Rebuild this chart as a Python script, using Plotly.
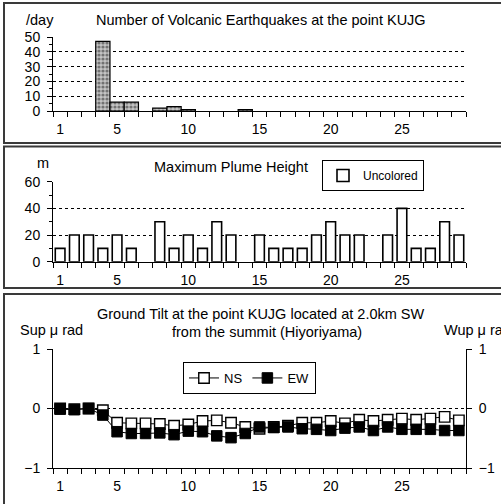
import plotly.graph_objects as go

# ---------------- data ----------------
days = list(range(1, 30))
quakes = [None, None, None, 47, 6, 6, None, 2, 3, 1, None, None, None, 1,
          None, None, None, None, None, None, None, None, None, None, None,
          None, None, None, None]
plume = [10, 20, 20, 10, 20, 10, None, 30, 10, 20, 10, 30, 20, None, 20,
         10, 10, 10, 20, 30, 20, 20, None, 20, 40, 10, 10, 30, 20]
tilt_ns = [0, -0.01, 0, -0.03, -0.24, -0.25, -0.25, -0.26, -0.29, -0.27,
           -0.21, -0.20, -0.24, -0.31, -0.34, -0.31, -0.29, -0.24, -0.24,
           -0.21, -0.25, -0.19, -0.21, -0.19, -0.17, -0.19, -0.17, -0.14, -0.20]
tilt_ew = [-0.01, -0.02, 0, -0.11, -0.39, -0.42, -0.42, -0.41, -0.44, -0.38,
           -0.39, -0.46, -0.49, -0.42, -0.31, -0.32, -0.31, -0.34, -0.35,
           -0.37, -0.33, -0.31, -0.37, -0.31, -0.35, -0.35, -0.35, -0.37, -0.37]
xtick_vals = [1, 5, 10, 15, 20, 25]

FONT = "Liberation Sans"
W, H = 501, 504


def px(x):
    return x / W


def py(y):
    return 1 - y / H


fig = go.Figure()

fig.add_trace(go.Bar(
    x=days, y=quakes, width=1, xaxis="x", yaxis="y", showlegend=False,
    marker=dict(color="#b0b0b0", line=dict(color="black", width=1.2),
                pattern=dict(shape=".", fgcolor="#202020", bgcolor="#c4c4c4",
                             size=4, solidity=0.5)),
))
fig.add_trace(go.Bar(
    x=days, y=plume, width=0.68, xaxis="x2", yaxis="y2", name="Uncolored",
    legend="legend",
    marker=dict(color="white", line=dict(color="black", width=1.6)),
))
fig.add_trace(go.Scatter(
    x=days, y=tilt_ns, xaxis="x3", yaxis="y3", name="NS", legend="legend2",
    mode="lines+markers", line=dict(color="black", width=1),
    marker=dict(symbol="square", size=10.5, color="white",
                line=dict(color="black", width=1.4)),
))
fig.add_trace(go.Scatter(
    x=days, y=tilt_ew, xaxis="x3", yaxis="y3", name="EW", legend="legend2",
    mode="lines+markers", line=dict(color="black", width=1),
    marker=dict(symbol="square", size=10.5, color="black",
                line=dict(color="black", width=1)),
))
fig.add_trace(go.Scatter(x=[None], y=[None], xaxis="x3", yaxis="y4",
                         showlegend=False, hoverinfo="skip"))

xdom = [px(53), px(466)]


def xaxis(anchor):
    return dict(domain=xdom, anchor=anchor, range=[0.5, 29.5],
                tickvals=xtick_vals, ticks="", showgrid=False, zeroline=False,
                showline=True, linecolor="black", linewidth=1,
                ticklabelstandoff=5,
                tickfont=dict(family=FONT, size=14, color="black"),
                minor=dict(tick0=0.5, dtick=1, ticks="outside", ticklen=5,
                           tickcolor="black", showgrid=False))


def yaxis(anchor, dom, rng, dtick, minor=None, **kw):
    d = dict(domain=dom, anchor=anchor, range=rng, dtick=dtick,
             ticks="outside", ticklen=5, tickcolor="black",
             showline=True, linecolor="black", linewidth=1,
             showgrid=True, gridcolor="black", griddash="dot", gridwidth=1,
             zeroline=False, ticklabelstandoff=4,
             tickfont=dict(family=FONT, size=14, color="black"))
    if minor:
        d["minor"] = dict(dtick=minor, ticks="outside", ticklen=3,
                          tickcolor="black", showgrid=False)
    d.update(kw)
    return d


fig.update_layout(
    width=W, height=H,
    margin=dict(l=0, r=0, t=0, b=0, pad=0, autoexpand=False),
    paper_bgcolor="white", plot_bgcolor="white",
    font=dict(family=FONT, size=13, color="black"),
    xaxis=xaxis("y"), xaxis2=xaxis("y2"), xaxis3=xaxis("y3"),
    yaxis=yaxis("x", [py(111), py(37)], [0, 50], 10, minor=5),
    yaxis2=yaxis("x2", [py(261.7), py(181.7)], [0, 60], 20, minor=10),
    yaxis3=yaxis("x3", [py(468), py(349)], [-1, 1], 1),
    yaxis4=dict(domain=[py(468), py(349)], anchor="x3", overlaying="y3",
                side="right", range=[-1, 1], dtick=1, ticks="outside",
                ticklen=5, tickcolor="black", showline=True,
                linecolor="black", linewidth=1, showgrid=False,
                zeroline=False, ticklabelstandoff=4,
                tickfont=dict(family=FONT, size=14, color="black")),
    legend=dict(x=px(322), y=py(160), xanchor="left", yanchor="top",
                bordercolor="black", borderwidth=1, bgcolor="white",
                font=dict(family=FONT, size=12), itemwidth=30,
                tracegroupgap=0),
    legend2=dict(x=px(183), y=py(362), xanchor="left", yanchor="top",
                 orientation="h", bordercolor="black", borderwidth=1,
                 bgcolor="white", font=dict(family=FONT, size=13)),
    showlegend=True,
)

ann = [
    ("/day", 40, 20, "center"),
    ("Number of Volcanic Earthquakes at the point KUJG", 261, 20, "center"),
    ("m", 43, 163, "center"),
    ("Maximum Plume Height", 231, 167, "center"),
    ("Ground Tilt at the point KUJG located at 2.0km SW", 261, 314, "center"),
    ("from the summit (Hiyoriyama)", 267, 332, "center"),
    ("Sup μ rad", 18, 330, "left"),
    ("Wup μ rad", 442, 330, "left"),
]
for text, x, y, anchor in ann:
    fig.add_annotation(text=text, x=px(x), y=py(y), xref="paper", yref="paper",
                       xanchor=anchor, yanchor="middle", showarrow=False,
                       font=dict(family=FONT, size=14.5, color="black"))

for (y0, y1) in [(3, 143), (146.5, 288), (294, 510)]:
    fig.add_shape(type="rect", xref="paper", yref="paper",
                  x0=px(4), x1=px(520), y0=py(y1), y1=py(y0),
                  line=dict(color="#3a3a3a", width=2))

fig.write_html("out.html",
               config={"displayModeBar": False},
               post_script="document.body.style.margin='0px';"
                           "document.body.style.overflow='hidden';")
